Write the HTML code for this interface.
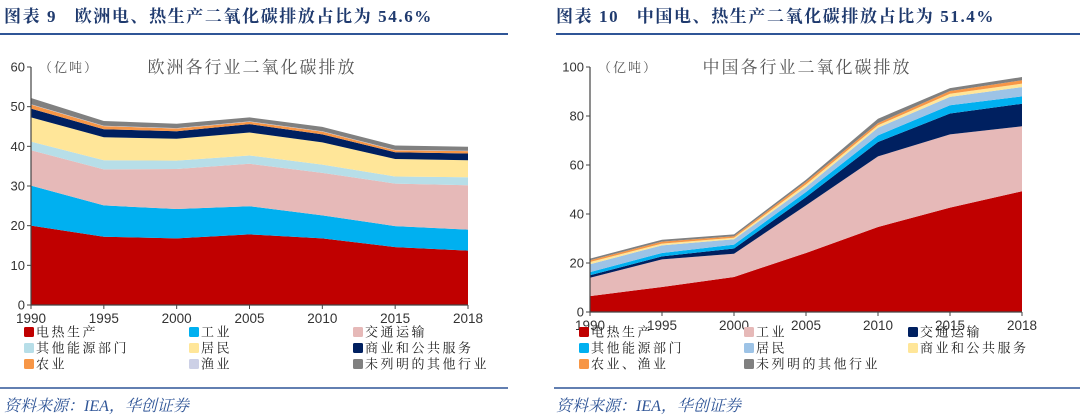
<!DOCTYPE html>
<html><head><meta charset="utf-8">
<style>
body{margin:0;background:#fff;width:1080px;height:417px;overflow:hidden;font-family:"Liberation Serif","Noto Serif CJK SC",serif;}
svg{display:block}
</style></head><body>
<svg id="s" width="1080" height="417" xmlns="http://www.w3.org/2000/svg">
<text x="4" y="22" font-size="17" font-weight="bold" fill="#1f3a6e" letter-spacing="1.6" style="white-space:pre">图表 9   欧洲电、热生产二氧化碳排放占比为 54.6%</text>
<line x1="0" y1="34" x2="508" y2="34" stroke="#2f5597" stroke-width="2"/>
<text x="556" y="22" font-size="17" font-weight="bold" fill="#1f3a6e" letter-spacing="1.6" style="white-space:pre">图表 10   中国电、热生产二氧化碳排放占比为 51.4%</text>
<line x1="556" y1="34" x2="1080" y2="34" stroke="#2f5597" stroke-width="2"/>
<line x1="0" y1="388" x2="508" y2="388" stroke="#2f5597" stroke-width="1.5"/>
<line x1="554" y1="388" x2="1080" y2="388" stroke="#2f5597" stroke-width="1.5"/>
<text x="4" y="411" font-size="16" font-style="italic" fill="#2f5597">资料来源：IEA，华创证券</text>
<text x="556" y="411" font-size="16" font-style="italic" fill="#2f5597">资料来源：IEA，华创证券</text>
<g id="L"></g><g id="R"></g>
</svg>
<script>
const years=["1990","1995","2000","2005","2010","2015","2018"];
const euNames=["电热生产","工业","交通运输","其他能源部门","居民","商业和公共服务","农业","渔业","未列明的其他行业"];
const euColors=["#c00000","#00b0f0","#e6b9b8","#b7dee8","#ffe699","#002060","#f79646","#ccd0e6","#808080"];
const euElec=[20,17.2,16.8,17.8,16.8,14.6,13.7];
const euInd=[10.1,7.9,7.4,7.1,5.8,5.3,5.3];
const euTrans=[8.9,9.1,10.1,10.7,10.7,10.7,11.2];
const euOther=[2.2,2.3,2.1,2.1,2.1,1.8,2.0];
const euRes=[6.1,5.8,5.5,5.8,5.6,4.4,4.3];
const euCom=[2.2,2.0,1.9,2.1,2.0,1.7,1.7];
const euAg=[1.0,0.8,0.7,0.6,0.7,0.5,0.6];
const euFish=[0.1,0.1,0.1,0.1,0.1,0.1,0.1];
const euUns=[1.6,1.2,1.1,1.0,1.1,1.1,1.0];
const cnNames=["电热生产","工业","交通运输","其他能源部门","居民","商业和公共服务","农业、渔业","未列明的其他行业"];
const cnColors=["#c00000","#e6b9b8","#002060","#00b0f0","#9dc3e6","#ffe699","#f79646","#808080"];
const cnElec=[6.5,10.2,14.3,24.1,34.7,42.6,49.3];
const cnInd=[7.5,11.3,9.5,19.4,28.8,29.9,26.5];
const cnTrans=[1.0,1.2,2.1,3.4,5.9,8.5,9.2];
const cnOther=[1.3,1.4,1.6,2.1,2.7,3.4,3.0];
const cnRes=[3.2,3.1,2.2,2.0,3.1,3.4,3.8];
const cnCom=[0.9,0.7,0.6,1.1,1.0,1.3,1.4];
const cnAg=[0.7,0.8,0.6,1.0,0.9,1.1,1.4];
const cnUns=[0.7,0.8,0.8,0.9,1.8,1.2,1.3];
const euTicks=[0,10,20,30,40,50,60];
const cnTicks=[0,20,40,60,80,100];
const NS="http://www.w3.org/2000/svg";
const SANS='"Liberation Sans","Noto Sans CJK SC",sans-serif';
function mk(p,tag,a){const e=document.createElementNS(NS,tag);for(const k in a)e.setAttribute(k,a[k]);p.appendChild(e);return e;}
function chart(g,cfg){
  const xs=i=>cfg.x0+(cfg.x1-cfg.x0)*i/(years.length-1);
  const ys=v=>cfg.y0-(cfg.y0-cfg.yTop)*v/cfg.max;
  let base=years.map(()=>0);
  cfg.series.forEach((s,k)=>{
    const top=base.map((b,i)=>b+s[i]);
    let d="M"+years.map((_,i)=>xs(i)+","+ys(top[i])).join("L");
    for(let i=years.length-1;i>=0;i--)d+="L"+xs(i)+","+ys(base[i]);
    const p=mk(g,"path",{d:d+"Z",fill:cfg.colors[k]});
    
    
    base=top;
  });
  const ax=mk(g,"path",{d:`M${cfg.x0},${cfg.yTop}V${cfg.y0}H${cfg.x1}`,stroke:"#444",fill:"none","stroke-width":1.2});
  
  
  cfg.ticks.forEach(t=>{
    mk(g,"line",{x1:cfg.x0-4,x2:cfg.x0,y1:ys(t),y2:ys(t),stroke:"#444"});
    const tx=mk(g,"text",{x:cfg.x0-6,y:ys(t)+4.5,"font-size":13,"text-anchor":"end",fill:"#333","font-family":SANS});
    tx.textContent=t;
    
    
  });
  years.forEach((y,i)=>{
    mk(g,"line",{x1:xs(i),x2:xs(i),y1:cfg.y0,y2:cfg.y0+4,stroke:"#444"});
    const tx=mk(g,"text",{x:xs(i),y:cfg.y0+18,"font-size":13.5,"text-anchor":"middle",fill:"#333","font-family":SANS});
    tx.textContent=y;
    
    
  });
  const u=mk(g,"text",{x:cfg.x0+8,y:cfg.yTop+5,"font-size":13,fill:"#555","letter-spacing":2});
  u.textContent="（亿吨）";
  
  
  const t=mk(g,"text",{x:cfg.tx,y:cfg.yTop+6,"font-size":17,fill:"#555","text-anchor":"middle","letter-spacing":2});
  t.textContent=cfg.title;
  
  
  cfg.names.forEach((n,k)=>{
    const c=k%3,r=Math.floor(k/3);
    const lx=cfg.lx[c],ly=333+r*16;
    const sq=mk(g,"rect",{x:lx,y:ly-6,width:10,height:10,rx:1.5,fill:cfg.colors[k]});
    
    
    const tx=mk(g,"text",{x:lx+12,y:ly+3.5,"font-size":13,fill:"#222","letter-spacing":2.5});
    tx.textContent=n;
    
    
  });
}
chart(document.getElementById("L"),{pre:"europe",x0:31,x1:468,y0:305,yTop:67,max:60,ticks:euTicks,
 series:[euElec,euInd,euTrans,euOther,euRes,euCom,euAg,euFish,euUns],colors:euColors,names:euNames,
 title:"欧洲各行业二氧化碳排放",tx:252,lx:[24,189,353]});
chart(document.getElementById("R"),{pre:"china",x0:590,x1:1022,y0:312,yTop:67,max:100,ticks:cnTicks,
 series:[cnElec,cnInd,cnTrans,cnOther,cnRes,cnCom,cnAg,cnUns],colors:cnColors,names:cnNames,
 title:"中国各行业二氧化碳排放",tx:807,lx:[579,744,908]});
</script>
</body></html>
